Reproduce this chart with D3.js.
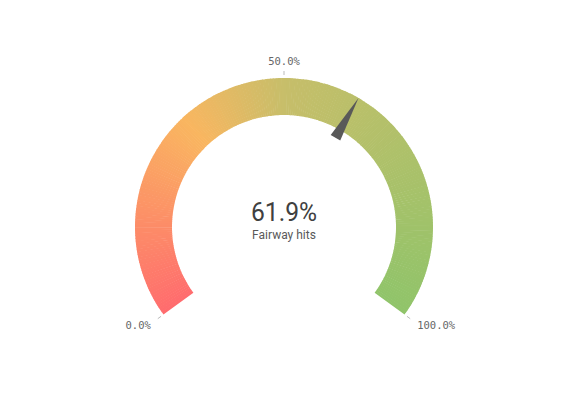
<!DOCTYPE html>
<html>
<head>
<meta charset="utf-8">
<script src="https://cdn.jsdelivr.net/npm/d3@7"></script>
<style>
  html, body { margin: 0; padding: 0; background: #fff; }
  svg { display: block; }
</style>
</head>
<body>
<svg id="chart" width="573" height="413"></svg>
<script>
// Gauge data
const measureLabel = ["Fairway hits"];
const measureValue = [0.619];
const rangeMin = [0];
const rangeMax = [1];
const tickValues = [0, 0.5, 1];
const tickLabels = ["0.0%", "50.0%", "100.0%"];
const gradientStops = [0, 0.33, 0.5, 1];
const gradientColors = ["#ff6c6e", "#f9b660", "#c7be6a", "#90c46a"];

const svg = d3.select("#chart");
const cx = 284, cy = 227;
const outerR = 149, innerR = 112;
const sweep = 0.7 * Math.PI;

const angle = d3.scaleLinear()
  .domain([rangeMin[0], rangeMax[0]])
  .range([-sweep, sweep]);

const colour = d3.scaleLinear()
  .domain(gradientStops)
  .range(gradientColors)
  .interpolate(d3.interpolateRgb);

const g = svg.append("g").attr("transform", `translate(${cx},${cy})`);

// Band drawn as many thin slices so the colour follows the sweep
const nSeg = 240;
const segs = d3.range(nSeg).map(i => ({
  a: rangeMin[0] + (rangeMax[0] - rangeMin[0]) * i / nSeg,
  b: rangeMin[0] + (rangeMax[0] - rangeMin[0]) * (i + 1) / nSeg
}));
const arc = d3.arc().innerRadius(innerR).outerRadius(outerR);
g.selectAll("path.seg").data(segs).join("path")
  .attr("class", "seg")
  .attr("d", d => arc({
    startAngle: angle(d.a),
    endAngle: Math.min(angle(d.b) + 0.004, angle(rangeMax[0]))
  }))
  .attr("fill", d => colour((d.a + d.b) / 2));

// Ticks and their labels
const pt = (v, rad) => {
  const t = angle(v);
  return [Math.sin(t) * rad, -Math.cos(t) * rad];
};
g.selectAll("line.tick").data(tickValues).join("line")
  .attr("class", "tick")
  .attr("x1", d => pt(d, outerR + 3)[0])
  .attr("y1", d => pt(d, outerR + 3)[1])
  .attr("x2", d => pt(d, outerR + 7)[0])
  .attr("y2", d => pt(d, outerR + 7)[1])
  .attr("stroke", "#bbb")
  .attr("stroke-width", 1);

g.selectAll("text.tick").data(tickValues).join("text")
  .attr("class", "tick")
  .attr("x", (d, i) => i === 0 ? pt(d, outerR + 7)[0] - 7 : i === 2 ? pt(d, outerR + 7)[0] + 7 : pt(d, outerR)[0])
  .attr("y", (d, i) => i === 1 ? -outerR - 13 : pt(d, outerR + 7)[1] + 10)
  .attr("text-anchor", (d, i) => i === 0 ? "end" : i === 2 ? "start" : "middle")
  .attr("font-family", "'DejaVu Sans Mono', monospace")
  .attr("font-size", 10.5)
  .attr("fill", "#666")
  .text((d, i) => tickLabels[i]);

// Needle
const t = angle(measureValue[0]);
const tip = [Math.sin(t) * outerR, -Math.cos(t) * outerR];
const baseR = innerR - 9, halfW = 5.5;
const bx = Math.sin(t) * baseR, by = -Math.cos(t) * baseR;
const px = Math.cos(t) * halfW, py = Math.sin(t) * halfW;
g.append("path")
  .attr("d", d3.line()([tip, [bx + px, by + py], [bx - px, by - py]]) + "Z")
  .attr("fill", "#595959");

// Centre readout
g.append("text")
  .attr("x", 0).attr("y", -6)
  .attr("text-anchor", "middle")
  .attr("font-family", "Roboto, sans-serif")
  .attr("font-size", 26)
  .attr("fill", "#404040")
  .attr("textLength", 66)
  .attr("lengthAdjust", "spacingAndGlyphs")
  .text(d3.format(".1%")(measureValue[0]));

g.append("text")
  .attr("x", 0).attr("y", 12)
  .attr("text-anchor", "middle")
  .attr("font-family", "Roboto, sans-serif")
  .attr("font-size", 12)
  .attr("fill", "#595959")
  .text(measureLabel[0]);
</script>
</body>
</html>
